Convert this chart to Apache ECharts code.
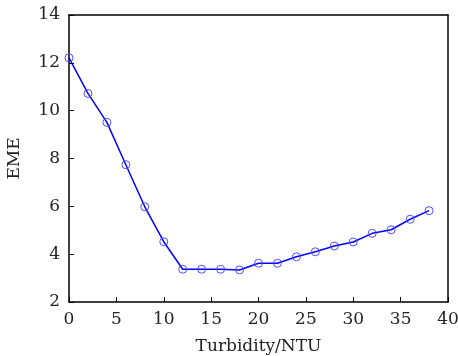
<!DOCTYPE html>
<html>
<head>
<meta charset="utf-8">
<script src="https://cdn.jsdelivr.net/npm/echarts@6/dist/echarts.min.js"></script>
<style>
  html, body { margin: 0; padding: 0; background: #fff; }
  #main { width: 458px; height: 356px; }
</style>
</head>
<body>
<div id="main"></div>
<script>
// 数据
const turbidity = [0, 2, 4, 6, 8, 10, 12, 14, 16, 18, 20, 22, 24, 26, 28, 30, 32, 34, 36, 38];
const eme = [12.21, 10.72, 9.51, 7.74, 5.98, 4.52, 3.37, 3.37, 3.37, 3.34, 3.62, 3.62, 3.89, 4.1, 4.34, 4.51, 4.87, 5.02, 5.46, 5.82];

const font = 'DejaVu Serif';
const myChart = echarts.init(document.getElementById('main'));
myChart.setOption({
  animation: false,
  backgroundColor: '#fff',
  grid: { left: 69, top: 15, right: 10, bottom: 54, outerBoundsMode: 'none' },
  xAxis: [
    {
      type: 'value', min: 0, max: 40, interval: 5,
      name: 'Turbidity/NTU', nameLocation: 'middle', nameGap: 36,
      nameTextStyle: { fontFamily: font, fontSize: 17, color: '#222' },
      axisLine: { onZero: false, lineStyle: { color: '#000', width: 1.5 } },
      axisTick: { inside: true, length: 5, lineStyle: { color: '#000' } },
      axisLabel: { fontFamily: font, fontSize: 17, color: '#222', margin: 9 },
      splitLine: { show: false }
    },
    {
      type: 'value', min: 0, max: 40, position: 'top',
      axisLine: { onZero: false, lineStyle: { color: '#000', width: 1.5 } },
      axisTick: { show: false }, axisLabel: { show: false }, splitLine: { show: false }
    }
  ],
  yAxis: [
    {
      type: 'value', min: 2, max: 14, interval: 2,
      name: 'EME', nameLocation: 'middle', nameGap: 46,
      nameTextStyle: { fontFamily: font, fontSize: 17, color: '#222' },
      axisLine: { show: true, onZero: false, lineStyle: { color: '#000', width: 1.5 } },
      axisTick: { show: true, inside: true, length: 5, lineStyle: { color: '#000' } },
      axisLabel: { fontFamily: font, fontSize: 17, color: '#222', margin: 9 },
      splitLine: { show: false }
    },
    {
      type: 'value', min: 2, max: 14, position: 'right',
      axisLine: { show: true, onZero: false, lineStyle: { color: '#000', width: 1.5 } },
      axisTick: { show: false }, axisLabel: { show: false }, splitLine: { show: false }
    }
  ],
  series: [
    {
      type: 'line',
      data: turbidity.map((x, i) => [x, eme[i]]),
      symbol: 'circle',
      symbolSize: 8,
      lineStyle: { color: '#0000ff', width: 1.5 },
      itemStyle: { color: 'rgba(0,0,0,0)', borderColor: '#4d4dff', borderWidth: 1 }
    }
  ]
});
</script>
</body>
</html>
